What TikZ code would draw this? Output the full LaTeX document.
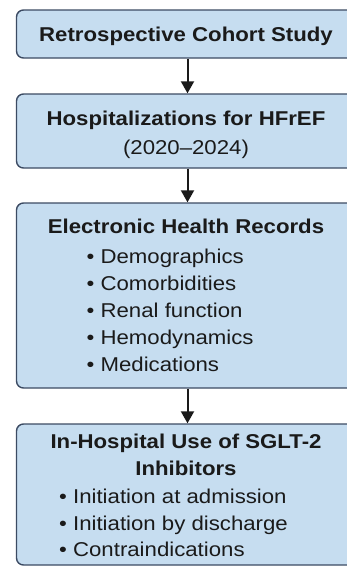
\documentclass[tikz,border=0pt]{standalone}
\usepackage{fontspec}
\setmainfont{Liberation Sans}[FakeStretch=1.11]
\usetikzlibrary{arrows.meta}
\definecolor{boxfill}{HTML}{C6DDF0}
\definecolor{boxline}{HTML}{3C4B63}
\definecolor{ink}{HTML}{1A1A1A}
\begin{document}
\begin{tikzpicture}[x=1pt,y=-1pt,
  stagebox/.style={draw=boxline, fill=boxfill, line width=1.4pt,
    rounded corners=7pt, minimum width=342pt, inner sep=0pt},
  headline/.style={anchor=base, inner sep=0pt, font=\fontsize{20}{27}\selectfont\bfseries, text=ink},
  subline/.style={anchor=base, inner sep=0pt, font=\fontsize{20}{27}\selectfont, text=ink},
  itemline/.style={anchor=base west, inner sep=0pt, font=\fontsize{20}{27}\selectfont, text=ink},
  flow/.style={line width=2pt, draw=ink, -{Triangle[width=13pt,length=12pt]}}]
\useasboundingbox (0,0) rectangle (347,566);
\clip (0,0) rectangle (347,566);

% stage boxes
\node[stagebox, minimum height=48pt]  (study)   at (187.5,34)    {};
\node[stagebox, minimum height=74pt]  (hosp)    at (187.5,131)   {};
\node[stagebox, minimum height=185pt] (ehr)     at (187.5,295.5) {};
\node[stagebox, minimum height=141pt] (sglt)    at (187.5,494.5) {};

% box texts
\node[headline] (t1) at (186,41.5) {Retrospective Cohort Study};

\node[headline] (t2) at (186,125) {Hospitalizations for HFrEF};
\node[subline]  (t2b) at (186,154) {(2020–2024)};

\node[headline] (t3) at (186,233) {Electronic Health Records};
\node[itemline] (e1) at (86.5,263) {• Demographics};
\node[itemline] (e2) at (86.5,290) {• Comorbidities};
\node[itemline] (e3) at (86.5,317) {• Renal function};
\node[itemline] (e4) at (86.5,344) {• Hemodynamics};
\node[itemline] (e5) at (86.5,371) {• Medications};

\node[headline] (t4)  at (186,448.5) {In-Hospital Use of SGLT-2};
\node[headline] (t4b) at (186,475) {Inhibitors};
\node[itemline] (s1) at (59,503) {• Initiation at admission};
\node[itemline] (s2) at (59,530) {• Initiation by discharge};
\node[itemline] (s3) at (59,556.5) {• Contraindications};

% connectors
\draw[flow] (study.south) -- (hosp.north);
\draw[flow] (hosp.south) -- (ehr.north);
\draw[flow] (ehr.south) -- (sglt.north);
\end{tikzpicture}
\end{document}
